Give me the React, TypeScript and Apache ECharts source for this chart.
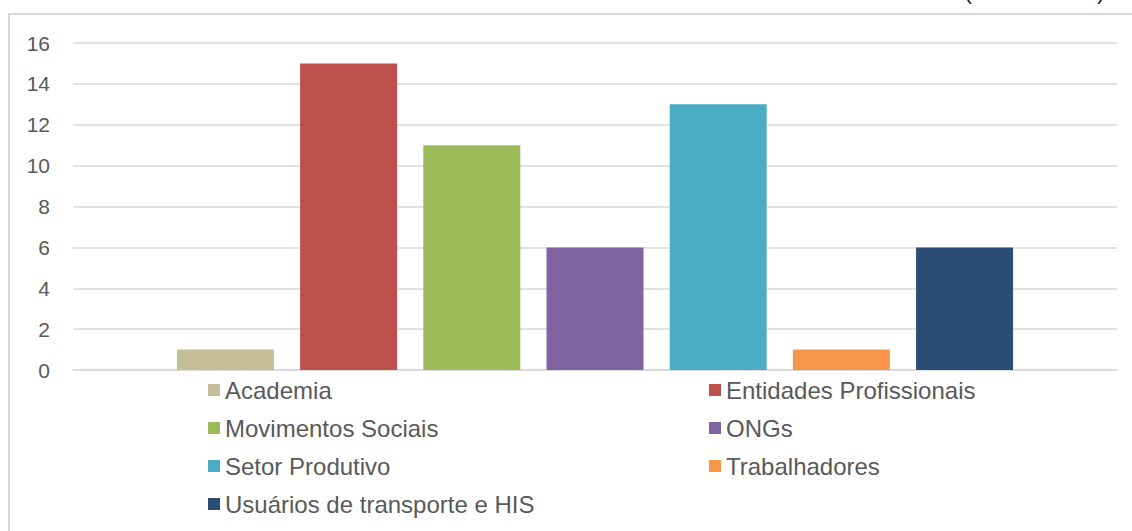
import React, { useEffect, useRef } from "react";
import * as echarts from "echarts";

const seriesNames = [
  "Academia",
  "Entidades Profissionais",
  "Movimentos Sociais",
  "ONGs",
  "Setor Produtivo",
  "Trabalhadores",
  "Usuários de transporte e HIS",
];
const seriesValues = [1, 15, 11, 6, 13, 1, 6];
const seriesColors = ["#C4BD97", "#C0504D", "#9BBB59", "#8064A2", "#4BACC6", "#F79646", "#2C4D75"];
const categories = [""];
const leftLegend = ["Academia", "Movimentos Sociais", "Setor Produtivo", "Usuários de transporte e HIS"];
const rightLegend = ["Entidades Profissionais", "ONGs", "Trabalhadores"];

export default function App() {
  const ref = useRef<HTMLDivElement>(null);
  useEffect(() => {
    if (!ref.current) return;
    const chart = echarts.init(ref.current, null, { renderer: "svg" });
    const legendText = { fontFamily: "Liberation Sans, Arial, sans-serif", fontSize: 24, color: "#595959", lineHeight: 24 };
    chart.setOption({
      animation: false,
      backgroundColor: "#ffffff",
      grid: { left: 73, right: 15, top: 43, bottom: 161, containLabel: false },
      xAxis: {
        type: "category",
        data: categories,
        axisLine: { show: true, lineStyle: { color: "#D9D9D9", width: 1.5 } },
        axisTick: { show: false },
        axisLabel: { show: false },
      },
      yAxis: {
        type: "value",
        min: 0,
        max: 16,
        interval: 2,
        axisLine: { show: false },
        axisTick: { show: false },
        axisLabel: { color: "#595959", fontSize: 21, fontFamily: "Liberation Sans, Arial, sans-serif", margin: 23 },
        splitLine: { lineStyle: { color: "#D9D9D9", width: 1.5 } },
      },
      legend: [
        {
          orient: "vertical",
          left: 203,
          top: 373,
          itemWidth: 12,
          itemHeight: 12,
          itemGap: 14,
          icon: "rect",
          data: leftLegend,
          textStyle: legendText,
        },
        {
          orient: "vertical",
          left: 704,
          top: 373,
          itemWidth: 12,
          itemHeight: 12,
          itemGap: 14,
          icon: "rect",
          data: rightLegend,
          textStyle: legendText,
        },
      ],
      graphic: [
        {
          type: "rect",
          shape: { x: 9, y: 14, width: 1300, height: 700 },
          style: { fill: "none", stroke: "#D9D9D9", lineWidth: 2 },
          silent: true,
        },
        {
          type: "text",
          x: 964,
          y: 2,
          style: { text: "(", fontSize: 24, fill: "#222", fontFamily: "Liberation Sans, Arial, sans-serif", textVerticalAlign: "bottom", textAlign: "left" },
        },
        {
          type: "text",
          x: 1097,
          y: 2,
          style: { text: ")", fontSize: 24, fill: "#222", fontFamily: "Liberation Sans, Arial, sans-serif", textVerticalAlign: "bottom", textAlign: "left" },
        },
      ],
      series: seriesNames.map((name, i) => ({
        name,
        type: "bar",
        data: [seriesValues[i]],
        barWidth: 97,
        barGap: "27%",
        itemStyle: { color: seriesColors[i] },
      })),
    });
    return () => chart.dispose();
  }, []);
  return <div ref={ref} style={{ position: "fixed", left: 0, top: 0, width: 1132, height: 531 }} />;
}
